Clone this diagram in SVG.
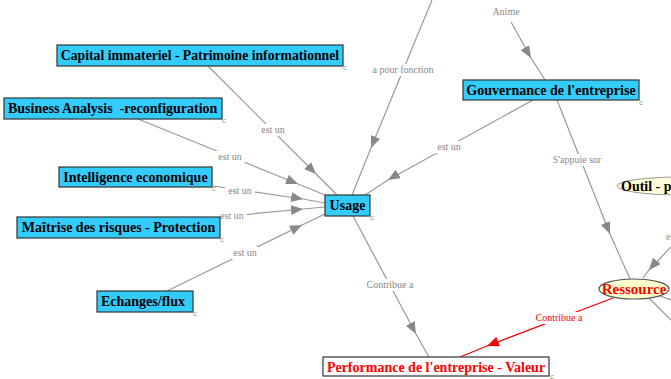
<svg xmlns="http://www.w3.org/2000/svg" width="671" height="379" viewBox="0 0 671 379">
<style>
.box{fill:#33ccff;stroke:#333;stroke-width:1.2}
.nt{font-family:"Liberation Serif",serif;font-weight:bold;font-size:14px;fill:#000}
.rt{font-family:"Liberation Serif",serif;font-weight:bold;font-size:15px;fill:#ff0000}
.c{font-family:"Liberation Sans",sans-serif;font-size:8px;fill:#999}
.ln{fill:none;stroke:#999;stroke-width:1.2;marker-mid:url(#ah)}
.lr{fill:none;stroke:#ff0000;stroke-width:1.2;marker-mid:url(#ahr)}
.lb{font-family:"Liberation Serif",serif;font-size:10px;fill:#888;text-anchor:middle}
.lbr{font-family:"Liberation Serif",serif;font-size:10px;fill:#ff0000;text-anchor:middle}
.bg{fill:#fff}
</style>
<defs>
<marker id="ah" viewBox="0 0 12 10" refX="12" refY="5" markerWidth="12" markerHeight="10" markerUnits="userSpaceOnUse" orient="auto"><path d="M0,0 L12,5 L0,10 Z" fill="#888"/></marker>
<marker id="ahr" viewBox="0 0 12 10" refX="12" refY="5" markerWidth="12" markerHeight="10" markerUnits="userSpaceOnUse" orient="auto"><path d="M0,0 L12,5 L0,10 Z" fill="#ff0000"/></marker>
<linearGradient id="yg" x1="0" y1="0" x2="1" y2="0"><stop offset="0" stop-color="#ffffd0"/><stop offset="1" stop-color="#fffff0"/></linearGradient>
</defs>
<rect width="671" height="379" fill="#fff"/>
<g id="connectors">
<polyline class="ln" points="432,0 371,148 352,195"/>
<polyline class="ln" points="511,22 531,58 545,80"/>
<polyline class="ln" points="557,100 610,234 630,279"/>
<polyline class="ln" points="533,100 388,180 365,195"/>
<polyline class="ln" points="208,66 316,174 337,195"/>
<polyline class="ln" points="138,119 298,184 325,195"/>
<polyline class="ln" points="213,186 303,199 325,203"/>
<polyline class="ln" points="220,217 303,209 325,207"/>
<polyline class="ln" points="167,291 302,225 325,214"/>
<polyline class="ln" points="353,216 416,334 429,357"/>
<polyline class="ln" points="671,247 649,270 643,278"/>
<line x1="648" y1="297" x2="671" y2="320" stroke="#999" stroke-width="1.2"/>
<line x1="660" y1="296" x2="671" y2="300" stroke="#999" stroke-width="1.2"/>
<polyline class="lr" points="613,298 487,346 460,357"/>
<rect class="bg" x="371" y="64" width="64" height="12"/><text class="lb" x="403" y="73">a pour fonction</text>
<rect class="bg" x="490" y="6" width="32" height="12"/><text class="lb" x="506" y="15">Anime</text>
<rect class="bg" x="550" y="154" width="54" height="12"/><text class="lb" x="577" y="163">S'appuie sur</text>
<rect class="bg" x="434" y="141" width="30" height="12"/><text class="lb" x="449" y="150">est un</text>
<rect class="bg" x="258" y="124" width="30" height="12"/><text class="lb" x="273" y="133">est un</text>
<rect class="bg" x="215" y="151" width="30" height="12"/><text class="lb" x="230" y="160">est un</text>
<rect class="bg" x="225" y="185" width="30" height="12"/><text class="lb" x="240" y="194">est un</text>
<rect class="bg" x="217" y="210" width="30" height="12"/><text class="lb" x="232" y="219">est un</text>
<rect class="bg" x="230" y="247" width="30" height="12"/><text class="lb" x="245" y="256">est un</text>
<rect class="bg" x="364" y="279" width="52" height="12"/><text class="lb" x="390" y="288">Contribue a</text>
<rect class="bg" x="533" y="312" width="52" height="12"/><text class="lbr" x="559" y="321">Contribue a</text>
<text class="lb" x="666" y="240" style="text-anchor:start">est un</text>
</g>
<g id="capital"><rect class="box" x="57" y="45" width="286" height="21"/><text class="nt" x="200" y="60" text-anchor="middle" style="font-size:13.7px">Capital immateriel - Patrimoine informationnel</text><text class="c" x="343" y="70">c</text></g>
<g id="business"><rect class="box" x="4" y="98" width="218" height="21"/><text class="nt" x="8" y="113">Business Analysis &#160;-reconfiguration</text><text class="c" x="222" y="123">c</text></g>
<g id="intelligence"><rect class="box" x="59" y="167" width="153" height="20"/><text class="nt" x="135.5" y="182" text-anchor="middle">Intelligence economique</text><text class="c" x="212" y="191">c</text></g>
<g id="maitrise"><rect class="box" x="17" y="217" width="203" height="21"/><text class="nt" x="118.5" y="232" text-anchor="middle">Maîtrise des risques - Protection</text><text class="c" x="220" y="242">c</text></g>
<g id="echanges"><rect class="box" x="97" y="291" width="96" height="21"/><text class="nt" x="101" y="306">Echanges/flux</text><text class="c" x="193" y="316">c</text></g>
<g id="usage"><rect class="box" x="325" y="195" width="45" height="21"/><text class="nt" x="347.5" y="210" text-anchor="middle">Usage</text><text class="c" x="370" y="220">c</text></g>
<g id="gouvernance"><rect class="box" x="463" y="80" width="176" height="20"/><text class="nt" x="551" y="95" text-anchor="middle">Gouvernance de l'entreprise</text><text class="c" x="639" y="105">c</text></g>
<g id="performance"><rect x="323" y="357" width="226" height="19" fill="#fff" stroke="#333" stroke-width="1.2"/><text class="rt" x="436" y="372" text-anchor="middle" style="font-size:14px">Performance de l'entreprise - Valeur</text><text class="c" x="550" y="379">c</text></g>
<g id="ressource"><ellipse cx="634" cy="289" rx="35" ry="10" fill="#ffffcc" stroke="#555" stroke-width="1.2"/><text class="rt" x="634" y="294" text-anchor="middle">Ressource</text></g>
<g id="outil"><ellipse cx="680" cy="186" rx="63" ry="9" fill="url(#yg)" stroke="#999" stroke-width="1"/><text class="nt" x="621" y="191">Outil - p</text></g>
</svg>
